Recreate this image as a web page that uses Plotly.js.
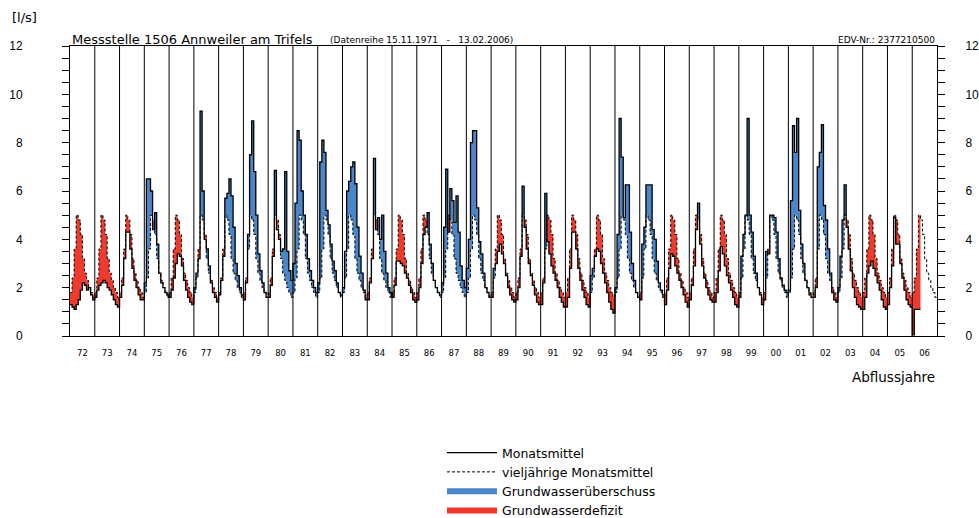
<!DOCTYPE html>
<html><head><meta charset="utf-8">
<script src="https://cdn.plot.ly/plotly-3.0.1.min.js"></script>
<style>html,body{margin:0;padding:0;background:#fff}</style>
</head><body>
<div id="chart" style="width:979px;height:518px"></div>
<script>
// Hydrological years (Nov–Oct), labelled by ending year
const yearLabels = ['72','73','74','75','76','77','78','79','80','81','82','83','84','85','86','87','88','89','90','91','92','93','94','95','96','97','98','99','00','01','02','03','04','05','06'];
// Long-term monthly means (Nov..Oct), l/s
const longTermMean = [1.8, 2.4, 3.6, 5.0, 4.8, 4.2, 3.2, 2.6, 2.3, 2.0, 1.8, 1.6];
// Monthly means per hydrological year (Nov..Oct), l/s
const hy72 = [1.3, 1.2, 1.1, 1.3, 1.5, 1.9, 2.2, 2.1, 1.9, 2.0, 1.7, 1.5];
const hy73 = [1.6, 1.9, 2.1, 2.2, 2.3, 2.2, 2.0, 1.9, 1.7, 1.5, 1.3, 1.2];
const hy74 = [1.6, 2.1, 3.2, 4.3, 4.3, 3.6, 2.8, 2.3, 2.0, 1.7, 1.5, 1.5];
const hy75 = [2.2, 6.5, 6.5, 6.0, 4.4, 5.1, 3.8, 2.6, 2.2, 2.0, 1.8, 1.7];
const hy76 = [1.6, 1.9, 2.4, 3.0, 3.4, 3.3, 2.9, 2.3, 1.9, 1.6, 1.4, 1.3];
const hy77 = [2.0, 2.6, 3.2, 9.3, 6.0, 4.0, 3.6, 2.9, 2.2, 1.8, 1.6, 1.4];
const hy78 = [1.7, 2.3, 3.3, 5.7, 5.9, 6.5, 5.8, 4.5, 3.0, 2.5, 2.0, 1.7];
const hy79 = [1.5, 2.2, 4.2, 7.5, 8.9, 6.8, 5.0, 3.4, 2.7, 2.2, 1.8, 1.6];
const hy80 = [1.6, 2.1, 3.3, 6.85, 4.4, 4.0, 3.5, 3.6, 6.8, 3.5, 2.7, 2.3];
const hy81 = [3.0, 5.5, 8.5, 8.1, 6.0, 5.0, 4.2, 3.2, 2.7, 2.3, 2.0, 1.8];
const hy82 = [2.2, 7.2, 8.1, 7.6, 5.2, 4.6, 3.8, 3.1, 2.7, 2.2, 1.8, 1.7];
const hy83 = [2.0, 3.5, 6.0, 6.4, 7.0, 7.2, 6.3, 4.5, 3.3, 2.6, 1.9, 1.5];
const hy84 = [1.5, 2.2, 3.2, 7.35, 4.4, 4.9, 4.0, 5.0, 3.5, 2.6, 2.0, 1.8];
const hy85 = [1.6, 2.1, 3.1, 3.1, 3.0, 2.9, 2.6, 2.4, 2.1, 1.8, 1.5, 1.4];
const hy86 = [1.5, 2.0, 3.0, 4.2, 4.5, 5.1, 3.8, 3.0, 2.3, 2.0, 1.8, 1.7];
const hy87 = [2.2, 4.5, 6.9, 4.3, 6.1, 5.6, 4.7, 5.8, 4.3, 2.9, 2.3, 2.0];
const hy88 = [2.8, 4.0, 8.0, 8.5, 8.5, 5.3, 3.9, 3.4, 2.6, 2.0, 1.8, 1.6];
const hy89 = [1.6, 2.8, 3.0, 3.5, 3.8, 3.4, 3.0, 2.5, 2.0, 1.7, 1.5, 1.4];
const hy90 = [1.5, 2.0, 3.3, 6.2, 4.5, 3.6, 3.0, 2.5, 2.1, 1.7, 1.4, 1.3];
const hy91 = [1.3, 2.2, 5.9, 3.9, 3.4, 2.9, 2.6, 2.3, 2.0, 1.6, 1.4, 1.2];
const hy92 = [1.2, 1.6, 2.8, 4.3, 4.3, 3.6, 2.8, 2.3, 1.9, 1.6, 1.3, 1.2];
const hy93 = [2.5, 2.8, 3.3, 3.6, 3.5, 3.0, 2.6, 2.2, 1.8, 1.4, 1.1, 0.95];
const hy94 = [2.0, 4.2, 9.0, 7.4, 4.9, 6.25, 6.25, 4.3, 3.0, 2.3, 1.8, 1.6];
const hy95 = [1.5, 3.8, 4.5, 6.25, 6.25, 6.25, 4.4, 4.0, 3.1, 2.2, 1.9, 1.7];
const hy96 = [1.3, 1.9, 2.8, 3.4, 3.3, 2.9, 2.6, 2.3, 2.0, 1.7, 1.4, 1.2];
const hy97 = [1.5, 2.1, 2.9, 4.4, 5.5, 3.8, 2.9, 2.4, 2.0, 1.7, 1.5, 1.4];
const hy98 = [1.4, 1.8, 2.7, 3.7, 3.4, 2.9, 2.5, 2.2, 1.9, 1.6, 1.3, 1.2];
const hy99 = [1.6, 3.3, 4.2, 5.0, 9.0, 5.0, 4.3, 3.3, 2.6, 2.0, 1.7, 1.3];
const hy00 = [1.5, 3.5, 3.4, 5.0, 5.0, 4.9, 4.3, 3.2, 2.4, 2.1, 1.9, 1.8];
const hy01 = [1.9, 5.6, 8.7, 7.6, 9.0, 5.2, 3.8, 3.0, 2.3, 2.0, 1.7, 1.6];
const hy02 = [1.6, 2.0, 7.0, 7.6, 8.75, 5.4, 4.8, 3.6, 2.6, 1.8, 1.5, 1.4];
const hy03 = [2.0, 3.3, 4.8, 6.25, 4.5, 3.6, 2.7, 2.0, 1.6, 1.3, 1.2, 1.1];
const hy04 = [1.1, 1.6, 2.6, 2.9, 3.1, 2.8, 2.5, 2.2, 1.9, 1.5, 1.2, 1.1];
const hy05 = [1.3, 2.0, 2.9, 4.9, 3.8, 3.8, 3.0, 2.4, 1.9, 1.5, 1.3, 1.2];
const hy06 = [0.05, 1.1, 1.1, 1.1];

const monthly = [].concat(hy72,hy73,hy74,hy75,hy76,hy77,hy78,hy79,hy80,hy81,hy82,hy83,hy84,hy85,hy86,hy87,hy88,hy89,hy90,hy91,hy92,hy93,hy94,hy95,hy96,hy97,hy98,hy99,hy00,hy01,hy02,hy03,hy04,hy05,hy06);

const BLUE = '#4a86c8', RED = '#ee3b2e';
const FONT = 'DejaVu Sans, sans-serif';
const NUMFONT = 'Liberation Sans, Arial, sans-serif';

// step series (hv): month i spans [i, i+1]; repeat last value at end
const xm = monthly.map((_, i) => i); xm.push(monthly.length);
const ym = monthly.slice(); ym.push(monthly[monthly.length - 1]);
const meanM = xm.map(i => longTermMean[Math.min(i, monthly.length - 1) % 12]);
const upper = ym.map((v, i) => Math.max(v, meanM[i]));
const lower = ym.map((v, i) => Math.min(v, meanM[i]));
const nMonths = yearLabels.length * 12;
const xl = []; const yl = [];
for (let i = 0; i <= nMonths; i++) { xl.push(i); yl.push(longTermMean[Math.min(i, nMonths - 1) % 12]); }

const noLine = {width: 0, color: 'rgba(0,0,0,0)', shape: 'hv'};
const traces = [
  {x: xm, y: meanM, mode: 'lines', line: noLine, showlegend: false, hoverinfo: 'skip'},
  {x: xm, y: upper, mode: 'lines', line: noLine, fill: 'tonexty', fillcolor: BLUE, showlegend: false, hoverinfo: 'skip'},
  {x: xm, y: meanM, mode: 'lines', line: noLine, showlegend: false, hoverinfo: 'skip'},
  {x: xm, y: lower, mode: 'lines', line: noLine, fill: 'tonexty', fillcolor: RED, showlegend: false, hoverinfo: 'skip'},
  {x: xl, y: yl, mode: 'lines', name: 'vieljährige Monatsmittel', legendrank: 2,
   line: {color: '#000', width: 1, dash: '3px,2px', shape: 'hv'}},
  {x: xm, y: ym, mode: 'lines', name: 'Monatsmittel', legendrank: 1,
   line: {color: '#000', width: 1.3, shape: 'hv'}},
  {x: [null], y: [null], yaxis: 'y2', mode: 'lines', name: 'Grundwasserüberschuss', legendrank: 3, line: {color: BLUE, width: 6}},
  {x: [null], y: [null], yaxis: 'y2', mode: 'lines', name: 'Grundwasserdefizit', legendrank: 4, line: {color: RED, width: 6}}
];

const shapes = [];
for (let k = 1; k < yearLabels.length; k++) {
  shapes.push({type: 'line', xref: 'x', yref: 'paper', x0: 12 * k, x1: 12 * k, y0: 0, y1: 1,
               line: {color: '#000', width: 1}, layer: 'above'});
}

const yax = {
  range: [0, 12], dtick: 2, tick0: 0, ticks: 'outside', ticklen: 7, tickcolor: '#000', tickwidth: 1,
  minor: {dtick: 0.5, ticks: 'outside', ticklen: 7, tickcolor: '#000', tickwidth: 1, showgrid: false},
  showline: true, linecolor: '#000', linewidth: 1, showgrid: false, zeroline: false, automargin: false,
  tickfont: {family: NUMFONT, size: 12, color: '#000'}, fixedrange: true
};

const layout = {
  width: 979, height: 518,
  margin: {l: 70, r: 42, t: 46, b: 182, pad: 0, autoexpand: false},
  paper_bgcolor: '#fff', plot_bgcolor: '#fff',
  showlegend: true,
  legend: {x: 442 / 979, y: (518 - 438) / 518, xref: 'container', yref: 'container', xanchor: 'left', yanchor: 'top', traceorder: 'normal',
           itemwidth: 50, font: {family: FONT, size: 12.5, color: '#000'}, bgcolor: 'rgba(0,0,0,0)', tracegroupgap: 0},
  xaxis: {range: [0, nMonths], tickmode: 'array',
          tickvals: yearLabels.map((_, k) => 12 * k + 6), ticktext: yearLabels,
          ticks: '', showline: true, linecolor: '#000', linewidth: 1, mirror: true, automargin: false,
          showgrid: false, zeroline: false, ticklabelstandoff: 9,
          tickfont: {family: FONT, size: 8.5, color: '#000'}, fixedrange: true},
  yaxis: Object.assign({}, yax, {ticklabelstandoff: 37}),
  yaxis2: Object.assign({}, yax, {overlaying: 'y', side: 'right', anchor: 'x', ticklabelstandoff: 18}),
  shapes: shapes,
  annotations: [
    {text: '[l/s]', xref: 'paper', yref: 'paper', x: -0.0692, y: 1.0966, xanchor: 'left', yanchor: 'middle',
     showarrow: false, font: {family: FONT, size: 13, color: '#000'}},
    {text: 'Messstelle 1506 Annweiler am Trifels', xref: 'paper', yref: 'paper', x: 0.0, y: 1.0207,
     xanchor: 'left', yanchor: 'middle', showarrow: false, font: {family: FONT, size: 13, color: '#000'}},
    {text: '(Datenreihe 15.11.1971\u00a0\u00a0\u00a0-\u00a0\u00a0\u00a013.02.2006)', xref: 'paper', yref: 'paper', x: 0.2976, y: 1.0207,
     xanchor: 'left', yanchor: 'middle', showarrow: false, font: {family: FONT, size: 9, color: '#000'}},
    {text: 'EDV-Nr.: 2377210500', xref: 'paper', yref: 'paper', x: 1, y: 1.0207,
     xanchor: 'right', yanchor: 'middle', showarrow: false, font: {family: FONT, size: 9, color: '#000'}},
    {text: 'Abflussjahre', xref: 'paper', yref: 'paper', x: 1, y: -0.1414,
     xanchor: 'right', yanchor: 'middle', showarrow: false, font: {family: FONT, size: 13.5, color: '#000'}}
  ]
};

Plotly.newPlot('chart', traces, layout, {staticPlot: true, displayModeBar: false});
</script>
</body></html>
